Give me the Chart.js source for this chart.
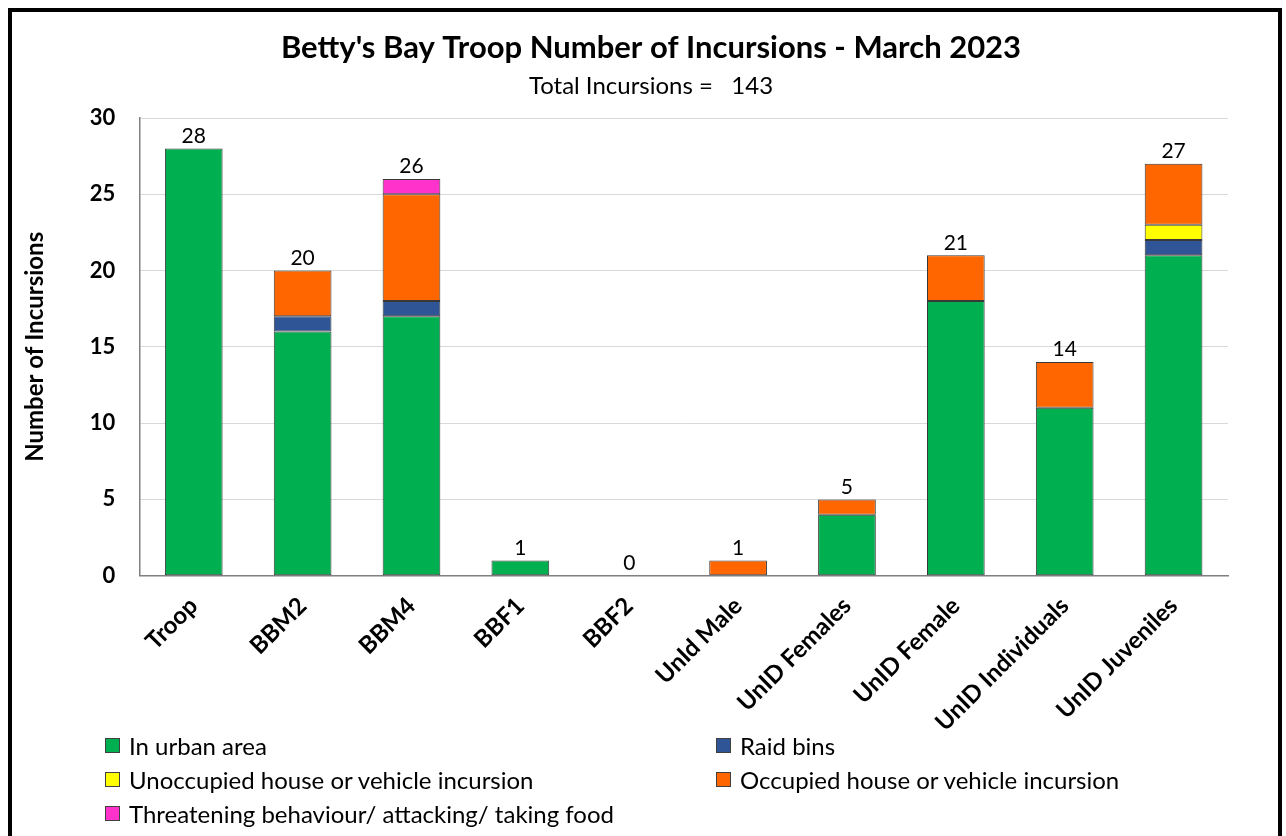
<!DOCTYPE html>
<html>
<head>
<meta charset="utf-8">
<script src="https://cdn.jsdelivr.net/npm/chart.js@4"></script>
<style>
  html, body { margin: 0; padding: 0; background: #fff; overflow: hidden; }
  #frame {
    position: absolute; left: 8px; top: 8px; width: 1274px; height: 900px;
    border: 4px solid #000; box-sizing: border-box; background: #fff;
  }
  #wrap { position: absolute; left: 0; top: 0; width: 1266px; height: 824px; }
  #legend {
    position: absolute; left: 93px; top: 721px; width: 1180px;
    display: grid; grid-template-columns: 611px 560px; row-gap: 10px;
    font-family: Lato, sans-serif; font-size: 24px; color: #000;
  }
  #legend .item { display: flex; align-items: center; height: 24px; }
  #legend .box { width: 13px; height: 13px; border: 1px solid #404040; margin-right: 9px; }
</style>
</head>
<body>
<div id="frame">
  <div id="wrap"><canvas id="myChart"></canvas></div>
  <div id="legend"></div>
</div>
<script>
// categories and series
var categories = ['Troop', 'BBM2', 'BBM4', 'BBF1', 'BBF2', 'UnId Male', 'UnID Females', 'UnID Female', 'UnID Individuals', 'UnID Juveniles'];
var urbanArea   = [28, 16, 17, 1, 0, 0, 4, 18, 11, 21];
var raidBins    = [0, 1, 1, 0, 0, 0, 0, 0, 0, 1];
var unoccupied  = [0, 0, 0, 0, 0, 0, 0, 0, 0, 1];
var occupied    = [0, 3, 7, 0, 0, 1, 1, 3, 3, 4];
var threatening = [0, 0, 1, 0, 0, 0, 0, 0, 0, 0];
var yTicks = [0, 5, 10, 15, 20, 25, 30];
var totalIncursions = 143;

var FONT = 'Lato, sans-serif';

function series(label, data, color) {
    return {
        label: label,
        data: data,
        backgroundColor: color,
        borderColor: '#383838',
        // empty segments get no outline
        borderWidth: function(c) { return c.raw ? 1 : 0; },
        borderSkipped: false,
        categoryPercentage: 1,
        barPercentage: 0.53
    };
}

// draws the stack total above each bar
var totalsPlugin = {
    id: 'totals',
    afterDatasetsDraw: function(chart) {
        var ctx = chart.ctx;
        var meta = chart.getDatasetMeta(0);
        ctx.save();
        ctx.font = '21px ' + FONT;
        ctx.fillStyle = '#000';
        ctx.textAlign = 'center';
        ctx.textBaseline = 'bottom';
        categories.forEach(function(c, i) {
            var sum = 0;
            chart.data.datasets.forEach(function(ds) { sum += ds.data[i]; });
            var x = meta.data[i].x;
            var y = chart.scales.y.getPixelForValue(sum);
            ctx.fillText(String(sum), x, y - 2);
        });
        ctx.restore();
    }
};

window.addEventListener('DOMContentLoaded', function() {
    var ctx = document.getElementById('myChart').getContext('2d');
    var chart = new Chart(ctx, {
        type: 'bar',
        data: {
            labels: categories,
            datasets: [
                series('In urban area', urbanArea, '#00B050'),
                series('Raid bins', raidBins, '#2F5597'),
                series('Unoccupied house or vehicle incursion', unoccupied, '#FFFF00'),
                series('Occupied house or vehicle incursion', occupied, '#FF6600'),
                series('Threatening behaviour/ attacking/ taking food', threatening, '#FF33CC')
            ]
        },
        options: {
            responsive: true,
            maintainAspectRatio: false,
            animation: false,
            // wide left padding keeps the title centred like the original;
            // the axis title is pulled back left with a negative padding
            layout: { padding: { left: 62, right: 50, top: 17, bottom: 91 } },
            plugins: {
                legend: { display: false },
                tooltip: { enabled: false },
                title: {
                    display: true,
                    text: "Betty's Bay Troop Number of Incursions - March 2023",
                    color: '#000',
                    font: { family: FONT, size: 31, weight: 'bold' },
                    padding: { top: 0, bottom: 6 }
                },
                subtitle: {
                    display: true,
                    text: 'Total Incursions =   ' + totalIncursions,
                    color: '#000',
                    font: { family: FONT, size: 24 },
                    padding: { top: 0, bottom: 17 }
                }
            },
            scales: {
                x: {
                    stacked: true,
                    grid: { display: false },
                    border: { display: true, color: '#808080', width: 1.5 },
                    ticks: {
                        color: '#000',
                        font: { family: FONT, size: 24, weight: 'bold' },
                        maxRotation: 45,
                        minRotation: 45,
                        padding: 8
                    }
                },
                y: {
                    stacked: true,
                    min: yTicks[0],
                    max: yTicks[yTicks.length - 1],
                    afterBuildTicks: function(axis) {
                        axis.ticks = yTicks.map(function(v) { return { value: v }; });
                    },
                    grid: { color: '#d9d9d9', drawTicks: false },
                    border: { display: true, color: '#808080', width: 1.5 },
                    ticks: {
                        color: '#000',
                        font: { family: FONT, size: 22, weight: 'bold' },
                        padding: 24
                    },
                    title: {
                        display: true,
                        text: 'Number of Incursions',
                        color: '#000',
                        font: { family: FONT, size: 24, weight: 'bold' },
                        padding: { top: -53, bottom: 16 }
                    }
                }
            }
        },
        plugins: [totalsPlugin]
    });

    // legend in two columns, built from the datasets
    var legend = document.getElementById('legend');
    chart.data.datasets.forEach(function(ds) {
        var item = document.createElement('div');
        item.className = 'item';
        var box = document.createElement('span');
        box.className = 'box';
        box.style.background = ds.backgroundColor;
        var txt = document.createElement('span');
        txt.textContent = ds.label;
        item.appendChild(box);
        item.appendChild(txt);
        legend.appendChild(item);
    });
});
</script>
</body>
</html>
